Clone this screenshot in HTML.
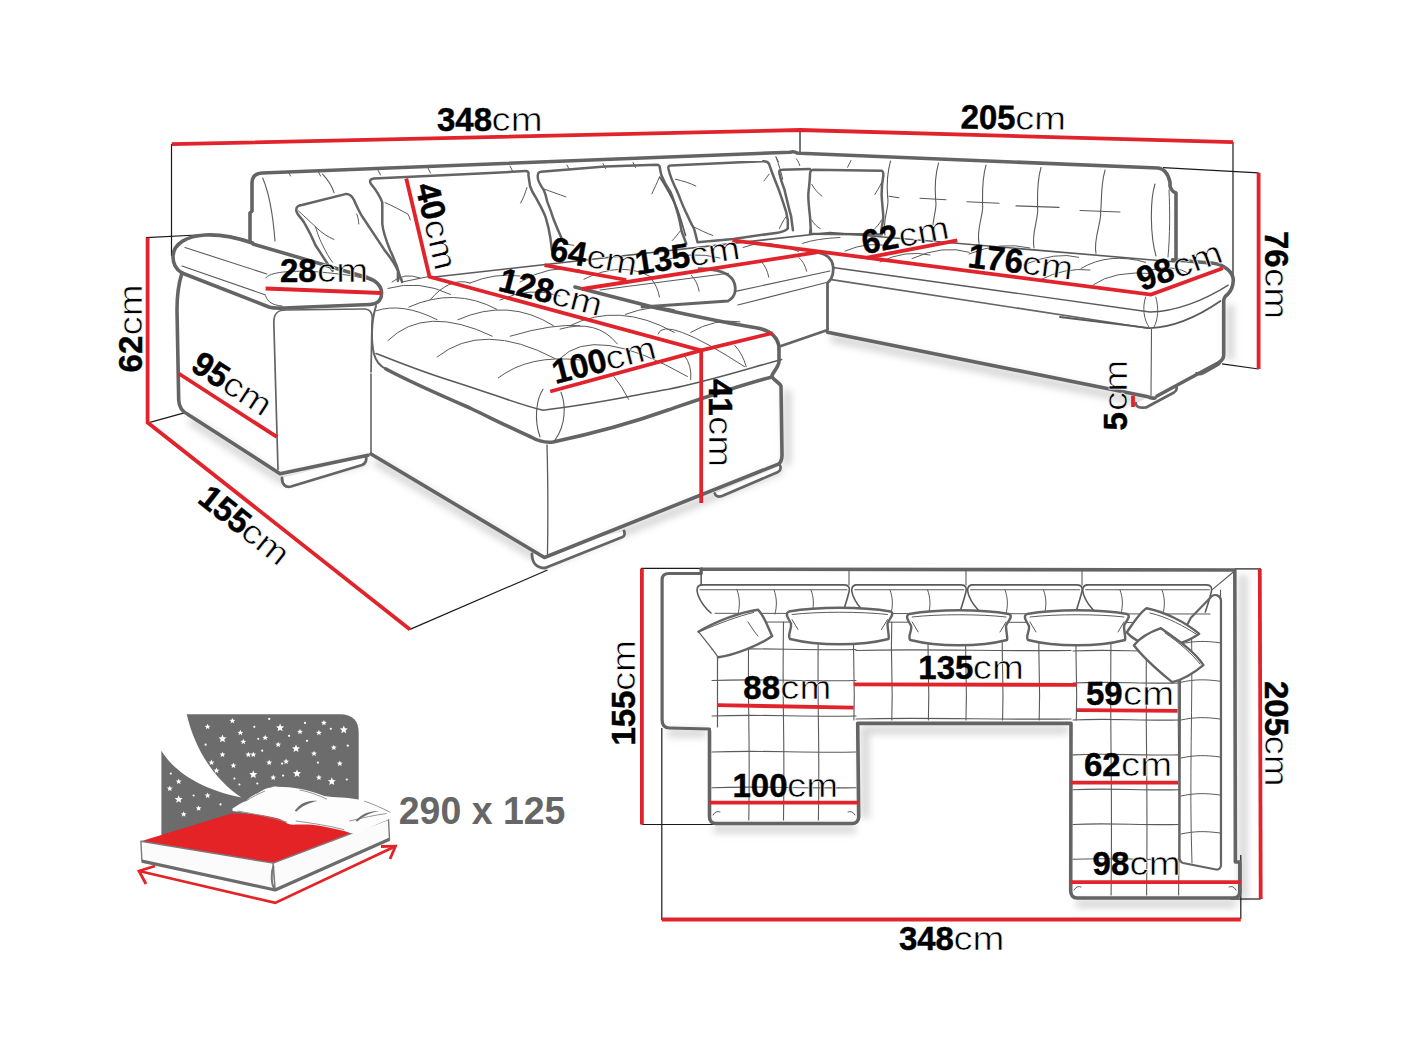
<!DOCTYPE html>
<html><head><meta charset="utf-8"><style>
html,body{margin:0;padding:0;background:#fff;width:1408px;height:1056px;overflow:hidden}
svg{display:block}
text{font-family:"Liberation Sans",sans-serif;fill:#000}
</style></head><body>
<svg width="1408" height="1056" viewBox="0 0 1408 1056">
<rect width="1408" height="1056" fill="#fff"/>
<defs><filter id="sh" x="-10%" y="-10%" width="120%" height="120%"><feGaussianBlur stdDeviation="3.5"/></filter></defs>
<g filter="url(#sh)" fill="none" stroke="#cfcfcf" stroke-width="9" opacity="0.8">
<path d="M714,829 L856,829"/>
<path d="M1076,903.5 L1236,903.5"/>
<path d="M1243,575 L1243,900"/>
<path d="M862,730 L1068,730"/>
<path d="M865,726 L865,818"/>
<path d="M668,733 L706,733"/>
<path d="M375,461 L546,563 L782,469"/>
<path d="M831,338 L1150,403"/>
<path d="M1230,305 L1230,360"/>
<path d="M787,390 L787,465"/>
<path d="M190,420 L282,480 L366,461"/>
</g>
<path d="M171.5,144 L171.5,256" fill="none" stroke="#1a1a1a" stroke-width="1.2"/>
<path d="M146,237.7 L207,234.5" fill="none" stroke="#1a1a1a" stroke-width="1.2"/>
<path d="M800,130 L800,153" fill="none" stroke="#1a1a1a" stroke-width="1.2"/>
<path d="M1233,142 L1233,277" fill="none" stroke="#1a1a1a" stroke-width="1.2"/>
<path d="M1163,167.7 L1258.6,172.8" fill="none" stroke="#1a1a1a" stroke-width="1.2"/>
<path d="M1222,363.8 L1258.6,369" fill="none" stroke="#1a1a1a" stroke-width="1.2"/>
<path d="M149,422.6 L186,412.3" fill="none" stroke="#1a1a1a" stroke-width="1.2"/>
<path d="M410,629.4 L547.5,570" fill="none" stroke="#1a1a1a" stroke-width="1.2"/>
<path d="M282,478 C282,484 285,488 291,486.5 L362,465 C366,463.5 367,461 366,456" fill="#fff" stroke="#646464" stroke-width="2.8" stroke-linecap="round" stroke-linejoin="round" />
<path d="M532,554 C532,562 536,568 545,568 L622.5,537 C625,536 625,533 624,531" fill="#fff" stroke="#646464" stroke-width="2.8" stroke-linecap="round" stroke-linejoin="round" />
<path d="M714.7,493.4 C716,497 719,497 722,496 L778,472 C781,470 781,468 780.3,466" fill="#fff" stroke="#646464" stroke-width="2.6" stroke-linecap="round" stroke-linejoin="round" />
<path d="M1135.8,403 C1136,407 1139,408 1146,407.5 L1174,392.5 C1177,390.5 1177,388 1176.3,386" fill="#fff" stroke="#646464" stroke-width="2.6" stroke-linecap="round" stroke-linejoin="round" />
<path d="M1196.4,373 C1198,375 1200,375 1204,373 L1218,365 C1220,364 1220,362 1220,361" fill="#fff" stroke="#646464" stroke-width="2.4" stroke-linecap="round" stroke-linejoin="round" />
<path d="M250,242 L250,213 L252,211 L252,183 Q252,173.5 262,173 L790,152.2 Q794,151 797,153 L800,153.3 L1158,168 Q1167,169 1170,182 L1170,186 Q1171,191 1176,193 L1176,258" fill="none" stroke="#646464" stroke-width="3.6" stroke-linecap="round" stroke-linejoin="round" />
<path d="M288,171 L290.5,176" fill="none" stroke="#5a5a5a" stroke-width="1" stroke-linecap="round" stroke-linejoin="round"/>
<path d="M318,171 L320.5,176" fill="none" stroke="#5a5a5a" stroke-width="1" stroke-linecap="round" stroke-linejoin="round"/>
<path d="M378,170 L380.5,175" fill="none" stroke="#5a5a5a" stroke-width="1" stroke-linecap="round" stroke-linejoin="round"/>
<path d="M428,168 L430.5,173" fill="none" stroke="#5a5a5a" stroke-width="1" stroke-linecap="round" stroke-linejoin="round"/>
<path d="M510,166 L512.5,171" fill="none" stroke="#5a5a5a" stroke-width="1" stroke-linecap="round" stroke-linejoin="round"/>
<path d="M567,165 L569.5,170" fill="none" stroke="#5a5a5a" stroke-width="1" stroke-linecap="round" stroke-linejoin="round"/>
<path d="M603,163.5 L605.5,168.5" fill="none" stroke="#5a5a5a" stroke-width="1" stroke-linecap="round" stroke-linejoin="round"/>
<path d="M633,162.5 L635.5,167.5" fill="none" stroke="#5a5a5a" stroke-width="1" stroke-linecap="round" stroke-linejoin="round"/>
<path d="M776,157 L778.5,162" fill="none" stroke="#5a5a5a" stroke-width="1" stroke-linecap="round" stroke-linejoin="round"/>
<path d="M262.7,178 C270,195 273,215 275,241" fill="none" stroke="#5a5a5a" stroke-width="1.1" stroke-linecap="round" stroke-linejoin="round"/>
<path d="M322.6,174.2 C328,180 332,186 334,192.7" fill="none" stroke="#5a5a5a" stroke-width="1.1" stroke-linecap="round" stroke-linejoin="round"/>
<path d="M1155,184 C1150,200 1150,235 1156,256" fill="none" stroke="#5a5a5a" stroke-width="1.1" stroke-linecap="round" stroke-linejoin="round"/>
<path d="M1169,190 C1170,210 1170,235 1168,257" fill="none" stroke="#5a5a5a" stroke-width="1.0" stroke-linecap="round" stroke-linejoin="round"/>
<path d="M890.5,161.101 C885.5,179.101 887.5,193.16 887.75,198.16 C889.75,206.16 882,220.219 885,235.219" fill="none" stroke="#5a5a5a" stroke-width="1.1" stroke-linecap="round" stroke-linejoin="round"/>
<path d="M938.5,163.11700000000002 C933.5,181.11700000000002 935.5,196.2272 935.75,201.2272 C937.75,209.2272 930,224.3374 933,239.3374" fill="none" stroke="#5a5a5a" stroke-width="1.1" stroke-linecap="round" stroke-linejoin="round"/>
<path d="M986,165.11200000000002 C981,183.11200000000002 983,199.1981 982.5,204.1981 C984.5,212.1981 976,228.2842 979,243.2842" fill="none" stroke="#5a5a5a" stroke-width="1.1" stroke-linecap="round" stroke-linejoin="round"/>
<path d="M1041,167.42200000000003 C1036,185.42200000000003 1038,202.7126 1037.5,207.7126 C1039.5,215.7126 1031,233.0032 1034,248.0032" fill="none" stroke="#5a5a5a" stroke-width="1.1" stroke-linecap="round" stroke-linejoin="round"/>
<path d="M1105,170.11 C1100,188.11 1102,206.71640000000002 1100.5,211.71640000000002 C1102.5,219.71640000000002 1093,238.3228 1096,253.3228" fill="none" stroke="#5a5a5a" stroke-width="1.1" stroke-linecap="round" stroke-linejoin="round"/>
<path d="M889,196.3 L899,197.8" fill="none" stroke="#5a5a5a" stroke-width="1.1" stroke-linecap="round" stroke-linejoin="round"/>
<path d="M920,198.2 L946,199.7" fill="none" stroke="#5a5a5a" stroke-width="1.1" stroke-linecap="round" stroke-linejoin="round"/>
<path d="M967,201.7 L999,203.2" fill="none" stroke="#5a5a5a" stroke-width="1.1" stroke-linecap="round" stroke-linejoin="round"/>
<path d="M1016,205.9 L1059,207.4" fill="none" stroke="#5a5a5a" stroke-width="1.1" stroke-linecap="round" stroke-linejoin="round"/>
<path d="M1080,210.5 L1120,212.0" fill="none" stroke="#5a5a5a" stroke-width="1.1" stroke-linecap="round" stroke-linejoin="round"/>
<path d="M851,160.5 L847.5,167.3" fill="none" stroke="#5a5a5a" stroke-width="1" stroke-linecap="round" stroke-linejoin="round"/>
<path d="M332.6,270.8 C326,262 320,252 315.5,245.2 C310,232 306,226 304.1,222.5 C300,216 296,214 296.3,210 C296,206 299,205.5 302,205 L345.3,194.1 C350,193.5 352,196 354,200 C357,207 360,213 362.4,216.8 L373.8,233.9 L385.1,250.9 C390,257 395,264 397.9,270.8 L397.9,281" fill="none" stroke="#646464" stroke-width="2.5" stroke-linecap="round" stroke-linejoin="round" />
<path d="M298.5,211 C303,215 308,219.7 317,228.2 C322,233 328,237 334,239.5" fill="none" stroke="#5a5a5a" stroke-width="1" stroke-linecap="round" stroke-linejoin="round"/>
<path d="M315.5,226.8 C318,235 320,240 322.6,245.2 C326,252 329,258 332.6,262.3" fill="none" stroke="#5a5a5a" stroke-width="1" stroke-linecap="round" stroke-linejoin="round"/>
<path d="M356.7,214 C358,217 358.5,220 358.8,224" fill="none" stroke="#5a5a5a" stroke-width="1" stroke-linecap="round" stroke-linejoin="round"/>
<path d="M402,282 C401,276 400.7,280.7 400.7,279 C398,268 394,258 390,250 C386,240 383,232 382.3,224 L382.3,202.6 C380,196 376,190 371,184 C369,181 370,179 374,178.5 L480,173.4 L525.3,171.1 C528,171 529,172.5 528.4,175 L530,186 C532,192 534,195 536.3,198.4 C540,205 543,210 545.6,217.2 C548,225 549.5,232 550.3,237.5 L551.9,250" fill="none" stroke="#646464" stroke-width="2.5" stroke-linecap="round" stroke-linejoin="round" />
<path d="M385,202.6 C393,206 400,210 407.8,214 C409,216 410,218 410.3,220" fill="none" stroke="#5a5a5a" stroke-width="1" stroke-linecap="round" stroke-linejoin="round"/>
<path d="M526.9,187.5 C525,194 523,199 520.6,203" fill="none" stroke="#5a5a5a" stroke-width="1" stroke-linecap="round" stroke-linejoin="round"/>
<path d="M402,282 L429,276.5" fill="none" stroke="#5a5a5a" stroke-width="1.2" stroke-linecap="round" stroke-linejoin="round"/>
<path d="M564.4,243.8 C562,240 561.3,237.5 561.3,237.5 C557,228 555,223 553.4,218.8 C551,211 549,206 547.2,201.6 C546,196 545,193 544,190.6 C541,186 538,181 537.8,178 C537.5,174 538,172 541,171.8 L605,166.4 L656.6,164.8 C659,165 660,166 659.7,167.2 L661.3,175 C664,182 667,187 670.6,192.2 C674,200 676,207 678.4,215.6 C680,222 681,227 681.6,231.3 L686.3,243.8" fill="none" stroke="#646464" stroke-width="2.5" stroke-linecap="round" stroke-linejoin="round" />
<path d="M544,189 C552,192 558,194 565.9,196.9" fill="none" stroke="#5a5a5a" stroke-width="1" stroke-linecap="round" stroke-linejoin="round"/>
<path d="M659.7,176.6 C657,183 654,189 651.9,193.8" fill="none" stroke="#5a5a5a" stroke-width="1" stroke-linecap="round" stroke-linejoin="round"/>
<path d="M680,231.3 C677,235 675,238 672.2,240.6" fill="none" stroke="#5a5a5a" stroke-width="1" stroke-linecap="round" stroke-linejoin="round"/>
<path d="M564.4,243.8 C567,244 570,245 573.8,245.3" fill="none" stroke="#5a5a5a" stroke-width="1" stroke-linecap="round" stroke-linejoin="round"/>
<path d="M697.5,242.3 C696,236 695,232 694,228.6 C690,222 688,216 685.6,211.6 C682,204 680,198 677,191.1 C673,183 670,176 668.5,169 C668,166 669,165.6 671,165.6 L762.3,161.3 C766,161 768,162 769,163.9 L770.8,169 C774,178 777,185 779.3,191.1 C782,199 784,205 786.1,211.6 C787,216 787.5,219 787.8,220.1 L787.8,228.6 C784,232 780,232.5 776,232.9 L733.3,238.9 L697.5,242.3" fill="none" stroke="#646464" stroke-width="2.5" stroke-linecap="round" stroke-linejoin="round" />
<path d="M675.3,179.2 C683,181 690,183 695.8,186" fill="none" stroke="#5a5a5a" stroke-width="1" stroke-linecap="round" stroke-linejoin="round"/>
<path d="M769,174.1 C767,177 765.5,179 764,180.9" fill="none" stroke="#5a5a5a" stroke-width="1" stroke-linecap="round" stroke-linejoin="round"/>
<path d="M694,227 C700,230 706,233 712.8,235.5" fill="none" stroke="#5a5a5a" stroke-width="1" stroke-linecap="round" stroke-linejoin="round"/>
<path d="M786,216.7 C783,221 781,225 779.3,228.6" fill="none" stroke="#5a5a5a" stroke-width="1" stroke-linecap="round" stroke-linejoin="round"/>
<path d="M660,177.5 C668,190 673,200 677,208.2 C681,218 683,228 685.6,235.5" fill="none" stroke="#5a5a5a" stroke-width="1.6" stroke-linecap="round" stroke-linejoin="round"/>
<path d="M793,230.3 C792,224 791.5,220 791.2,216.7 C788,205 786,196 784.4,189.4 C782,183 780,178 779.3,172.4 C779,170.5 780,169.8 782,169.8 L810,169" fill="none" stroke="#646464" stroke-width="2.5" stroke-linecap="round" stroke-linejoin="round" />
<path d="M776,157 C779,165 781,172 782.7,179.2" fill="none" stroke="#5a5a5a" stroke-width="1" stroke-linecap="round" stroke-linejoin="round"/>
<path d="M796.4,158.8 C798,161 799,163 799.8,165.6" fill="none" stroke="#5a5a5a" stroke-width="1" stroke-linecap="round" stroke-linejoin="round"/>
<path d="M813.4,169.8 L881.6,170.7 C883,171 883.5,172.5 883.3,175.8 C882,183 881.6,188 881.6,194.5 C882,203 883,210 883.3,216.7 C883,222 882,226 881.6,228.6 L881.6,234.6 L810,233.8 C810.5,229 810.9,226 810.9,232 L810,216.7 C809,208 808.3,200 808.3,194.5 C809,186 810,180 810,174.1 C810,171 811,170 813.4,169.8 Z" fill="none" stroke="#646464" stroke-width="2.5" stroke-linecap="round" stroke-linejoin="round" />
<path d="M811.7,184.3 C815,190 818,193 822,196.2" fill="none" stroke="#5a5a5a" stroke-width="1" stroke-linecap="round" stroke-linejoin="round"/>
<path d="M881.6,182.6 C879,188 877,191 874.8,194.5" fill="none" stroke="#5a5a5a" stroke-width="1" stroke-linecap="round" stroke-linejoin="round"/>
<path d="M811.7,220 C814,224 817,227 820.2,228.6" fill="none" stroke="#5a5a5a" stroke-width="1" stroke-linecap="round" stroke-linejoin="round"/>
<path d="M881.6,220 C879,224 877,227 874.8,228.6" fill="none" stroke="#5a5a5a" stroke-width="1" stroke-linecap="round" stroke-linejoin="round"/>
<path d="M252.5,243 C238,238 222,234 205,235 C188,236 173,243 173,257 C173,265 177,270 182,273 L269,307 C275,309 285,308 295,307.5 L370,304.5 C379,304 382,299 381.5,292 C381,284 374,279 362,276 L253,244" fill="none" stroke="#646464" stroke-width="3.6" stroke-linecap="round" stroke-linejoin="round" />
<path d="M185,247.5 L266.8,274" fill="none" stroke="#5a5a5a" stroke-width="1.1" stroke-linecap="round" stroke-linejoin="round"/>
<path d="M182,266 L265.6,295" fill="none" stroke="#5a5a5a" stroke-width="1.1" stroke-linecap="round" stroke-linejoin="round"/>
<path d="M265.6,278 C270,272 290,270 320,272 C340,274 360,276 372,281" fill="none" stroke="#5a5a5a" stroke-width="1" stroke-linecap="round" stroke-linejoin="round"/>
<path d="M265.6,296 C268,302 272,305 282,306" fill="none" stroke="#5a5a5a" stroke-width="1" stroke-linecap="round" stroke-linejoin="round"/>
<path d="M182,273 C178,285 177,295 177,310 L178.7,400 C179,408 183,412 188,414.4 L280,473.7 L368,455.3" fill="none" stroke="#646464" stroke-width="3.6" stroke-linecap="round" stroke-linejoin="round" />
<path d="M278,469.6 L273.8,322 C273.8,313 278,310 286,310 L364,309 C371,309 373,314 372,322 L371,372" fill="none" stroke="#646464" stroke-width="1.7" stroke-linecap="round" stroke-linejoin="round" />
<path d="M376,306 C371,322 371,342 374,354 C376,362 380,366 386,369" fill="none" stroke="#646464" stroke-width="2.0" stroke-linecap="round" stroke-linejoin="round" />
<path d="M386,369 C410,382 440,395 470,408 C495,420 515,430 531,437 C538,441 544,443 553,442 C600,432 640,420 668,410 C700,399 740,385 772,377" fill="none" stroke="#646464" stroke-width="3.6" stroke-linecap="round" stroke-linejoin="round" />
<path d="M376,353.5 C405,365 430,375 459.5,383.4 C490,393 520,405 543,410.2 C590,405 630,396 668.3,389.3 C710,381 750,368 781.7,359.5" fill="none" stroke="#5a5a5a" stroke-width="1.6" stroke-linecap="round" stroke-linejoin="round"/>
<path d="M575,287 L653.6,307.3 C690,315 720,322 756,327.7 C770,330 777,336 779,346 L779,362 C778,368 773,372 771.8,376 C773,380 779,382 781,386 L782,455 C782,460 781,462 779,463.8" fill="none" stroke="#646464" stroke-width="3.6" stroke-linecap="round" stroke-linejoin="round" />
<path d="M371,374 L371,454" fill="none" stroke="#5a5a5a" stroke-width="1.5" stroke-linecap="round" stroke-linejoin="round"/>
<path d="M371,454 L544.4,557.5 L779,463.8" fill="none" stroke="#646464" stroke-width="3.6" stroke-linecap="round" stroke-linejoin="round" />
<path d="M547,445 C548,480 548,520 547.5,554" fill="none" stroke="#5a5a5a" stroke-width="1.3" stroke-linecap="round" stroke-linejoin="round"/>
<path d="M543,389.3 C536,400 534,420 540,437" fill="none" stroke="#5a5a5a" stroke-width="1.1" stroke-linecap="round" stroke-linejoin="round"/>
<path d="M561,392.3 C566,405 566,425 555,440" fill="none" stroke="#5a5a5a" stroke-width="1.1" stroke-linecap="round" stroke-linejoin="round"/>
<path d="M387.9,288.4 Q419.2,279.4 450.5,294.4" fill="none" stroke="#5a5a5a" stroke-width="1" stroke-linecap="round" stroke-linejoin="round"/>
<path d="M408.8,307.1 Q454.2,286.6 496.8,309.3" fill="none" stroke="#5a5a5a" stroke-width="1" stroke-linecap="round" stroke-linejoin="round"/>
<path d="M376,310.8 Q402.1,302.0 437.1,319.7" fill="none" stroke="#5a5a5a" stroke-width="1" stroke-linecap="round" stroke-linejoin="round"/>
<path d="M387.9,340.6 Q425.1,304.0 492.3,336.2" fill="none" stroke="#5a5a5a" stroke-width="1" stroke-linecap="round" stroke-linejoin="round"/>
<path d="M458,319.7 Q508.6,297.3 553.5,325.7" fill="none" stroke="#5a5a5a" stroke-width="1" stroke-linecap="round" stroke-linejoin="round"/>
<path d="M437.1,357 Q482.6,320.5 554.9,358.5" fill="none" stroke="#5a5a5a" stroke-width="1" stroke-linecap="round" stroke-linejoin="round"/>
<path d="M510.2,336.2 Q552.9,323.4 580,325.7" fill="none" stroke="#5a5a5a" stroke-width="1" stroke-linecap="round" stroke-linejoin="round"/>
<path d="M498.3,377.9 Q529.1,354.1 580,360" fill="none" stroke="#5a5a5a" stroke-width="1" stroke-linecap="round" stroke-linejoin="round"/>
<path d="M625.3,314.4 Q653.2,303.8 674.3,309.5" fill="none" stroke="#5a5a5a" stroke-width="1" stroke-linecap="round" stroke-linejoin="round"/>
<path d="M569.8,325.8 Q618.8,301.3 674.3,332.4" fill="none" stroke="#5a5a5a" stroke-width="1" stroke-linecap="round" stroke-linejoin="round"/>
<path d="M560,329.1 Q596.8,318.5 617.2,343.8" fill="none" stroke="#5a5a5a" stroke-width="1" stroke-linecap="round" stroke-linejoin="round"/>
<path d="M658,334 Q663.7,314.4 744.6,366.7" fill="none" stroke="#5a5a5a" stroke-width="1" stroke-linecap="round" stroke-linejoin="round"/>
<path d="M690.7,332.4 Q715.1,318.1 740,321.8" fill="none" stroke="#5a5a5a" stroke-width="1" stroke-linecap="round" stroke-linejoin="round"/>
<path d="M560,358.5 Q594.3,323.3 687.4,376.5" fill="none" stroke="#5a5a5a" stroke-width="1" stroke-linecap="round" stroke-linejoin="round"/>
<path d="M500,300 Q530.0,286.0 560,296" fill="none" stroke="#5a5a5a" stroke-width="1" stroke-linecap="round" stroke-linejoin="round"/>
<path d="M392,282 Q404.0,272.0 420,278" fill="none" stroke="#5a5a5a" stroke-width="1" stroke-linecap="round" stroke-linejoin="round"/>
<path d="M613.9,376.5 Q621.9,385.9 628.6,399.3" fill="none" stroke="#5a5a5a" stroke-width="1" stroke-linecap="round" stroke-linejoin="round"/>
<path d="M684.2,355.2 Q692.2,365.45 690.7,379.7" fill="none" stroke="#5a5a5a" stroke-width="1" stroke-linecap="round" stroke-linejoin="round"/>
<path d="M734.8,345.4 Q742.8,354.04999999999995 746.2,366.7" fill="none" stroke="#5a5a5a" stroke-width="1" stroke-linecap="round" stroke-linejoin="round"/>
<path d="M772,335 Q780,340.5 778,350" fill="none" stroke="#5a5a5a" stroke-width="1" stroke-linecap="round" stroke-linejoin="round"/>
<path d="M430,277.5 L830,232.5 L1176,262" fill="none" stroke="#5a5a5a" stroke-width="1.6" stroke-linecap="round" stroke-linejoin="round"/>
<path d="M430,300 Q450.0,276.5 470,283" fill="none" stroke="#5a5a5a" stroke-width="1" stroke-linecap="round" stroke-linejoin="round"/>
<path d="M470,283 Q495.0,272.5 520,276" fill="none" stroke="#5a5a5a" stroke-width="1" stroke-linecap="round" stroke-linejoin="round"/>
<path d="M520,282 Q550.0,264.0 580,270" fill="none" stroke="#5a5a5a" stroke-width="1" stroke-linecap="round" stroke-linejoin="round"/>
<path d="M583.9,279.2 Q621.7,260.4 651.5,277.2" fill="none" stroke="#5a5a5a" stroke-width="1" stroke-linecap="round" stroke-linejoin="round"/>
<path d="M743,247.4 Q766.7,237.4 798.7,251.4" fill="none" stroke="#5a5a5a" stroke-width="1" stroke-linecap="round" stroke-linejoin="round"/>
<path d="M802.6,243.4 Q815.9,238.6 840,237.5" fill="none" stroke="#5a5a5a" stroke-width="1" stroke-linecap="round" stroke-linejoin="round"/>
<path d="M660,262 Q690.0,250.0 720,258" fill="none" stroke="#5a5a5a" stroke-width="1" stroke-linecap="round" stroke-linejoin="round"/>
<path d="M651.5,279.2 Q657.5,286.15 659.5,297.1" fill="none" stroke="#5a5a5a" stroke-width="1" stroke-linecap="round" stroke-linejoin="round"/>
<path d="M691.3,275.3 Q697.3,281.25 699.2,291.2" fill="none" stroke="#5a5a5a" stroke-width="1" stroke-linecap="round" stroke-linejoin="round"/>
<path d="M760.9,261.3 Q766.9,267.25 768.8,277.2" fill="none" stroke="#5a5a5a" stroke-width="1" stroke-linecap="round" stroke-linejoin="round"/>
<path d="M798.7,257.4 Q804.7,262.35 806.6,271.3" fill="none" stroke="#5a5a5a" stroke-width="1" stroke-linecap="round" stroke-linejoin="round"/>
<path d="M699,268.6 C715,269 728,272 733,280 C737,288 736,297 728,301 L642,307" fill="none" stroke="#646464" stroke-width="2.8" stroke-linecap="round" stroke-linejoin="round" />
<path d="M600,290 L728.6,273.2" fill="none" stroke="#5a5a5a" stroke-width="1.1" stroke-linecap="round" stroke-linejoin="round"/>
<path d="M735.5,291.4 L830,271" fill="none" stroke="#5a5a5a" stroke-width="1.1" stroke-linecap="round" stroke-linejoin="round"/>
<path d="M737.8,305 L827.5,282.3" fill="none" stroke="#5a5a5a" stroke-width="1.1" stroke-linecap="round" stroke-linejoin="round"/>
<path d="M815,252 C825,253 832,258 833,266 C834,274 831,280 827.5,283 L827.5,330 L781,346" fill="none" stroke="#646464" stroke-width="2.8" stroke-linecap="round" stroke-linejoin="round" />
<path d="M833,267.5 L1149.8,312 C1175,312 1205,300 1228.2,285.1" fill="none" stroke="#5a5a5a" stroke-width="1.3" stroke-linecap="round" stroke-linejoin="round"/>
<path d="M831.5,279.6 L1148,328.2" fill="none" stroke="#646464" stroke-width="1.6" stroke-linecap="round" stroke-linejoin="round" />
<path d="M827.5,332.3 L1148,396.7 C1150,398 1152,398.5 1155,398" fill="none" stroke="#646464" stroke-width="3.6" stroke-linecap="round" stroke-linejoin="round" />
<path d="M844.9,251.1 Q868.1,241.2 888,246" fill="none" stroke="#5a5a5a" stroke-width="1" stroke-linecap="round" stroke-linejoin="round"/>
<path d="M912,258.6 Q943.2,244.3 969.2,252.3" fill="none" stroke="#5a5a5a" stroke-width="1" stroke-linecap="round" stroke-linejoin="round"/>
<path d="M969,254 Q1000.5,241.0 1030,248" fill="none" stroke="#5a5a5a" stroke-width="1" stroke-linecap="round" stroke-linejoin="round"/>
<path d="M1023.9,264.8 Q1056.2,251.2 1078.6,257.3" fill="none" stroke="#5a5a5a" stroke-width="1" stroke-linecap="round" stroke-linejoin="round"/>
<path d="M1081,268.5 Q1108.5,251.8 1145.7,262.3" fill="none" stroke="#5a5a5a" stroke-width="1" stroke-linecap="round" stroke-linejoin="round"/>
<path d="M1093.5,284.7 Q1113.5,270.3 1153.2,273.5" fill="none" stroke="#5a5a5a" stroke-width="1" stroke-linecap="round" stroke-linejoin="round"/>
<path d="M1040,280 Q1065.0,267.0 1090,270" fill="none" stroke="#5a5a5a" stroke-width="1" stroke-linecap="round" stroke-linejoin="round"/>
<path d="M880,262 Q905.0,249.5 930,255" fill="none" stroke="#5a5a5a" stroke-width="1" stroke-linecap="round" stroke-linejoin="round"/>
<path d="M1150,270 Q1174.0,264.0 1190,274" fill="none" stroke="#5a5a5a" stroke-width="1" stroke-linecap="round" stroke-linejoin="round"/>
<path d="M1172.5,259.8 L1213.5,263.2 C1225,265 1233,272 1233.3,280 C1233,287 1231,291 1228,294 C1224,297 1223.5,299 1223.7,303 L1223.7,354.5 C1223.7,358 1222,361 1218,363 L1157,396" fill="none" stroke="#646464" stroke-width="3.6" stroke-linecap="round" stroke-linejoin="round" />
<path d="M1060,317 L1149.8,328.1 C1175,327 1200,315 1220.5,300.9" fill="none" stroke="#5a5a5a" stroke-width="1.8" stroke-linecap="round" stroke-linejoin="round"/>
<path d="M1145.6,297 C1142,308 1144,320 1149,327" fill="none" stroke="#5a5a5a" stroke-width="1" stroke-linecap="round" stroke-linejoin="round"/>
<path d="M1155.8,297 C1159,308 1158,320 1154,327" fill="none" stroke="#5a5a5a" stroke-width="1" stroke-linecap="round" stroke-linejoin="round"/>
<path d="M1151.5,329.4 L1151,396" fill="none" stroke="#5a5a5a" stroke-width="1.1" stroke-linecap="round" stroke-linejoin="round"/>
<path d="M171.7,144.2 L800,130 L1233,142.1" fill="none" stroke="#e1242b" stroke-width="3.8" stroke-linecap="butt" stroke-linejoin="miter"/>
<path d="M1258.6,172.8 L1258.6,369" fill="none" stroke="#e1242b" stroke-width="3.8" stroke-linecap="butt" stroke-linejoin="miter"/>
<path d="M147.6,237.7 L147.6,422.6 L410,629.4" fill="none" stroke="#e1242b" stroke-width="3.8" stroke-linecap="butt" stroke-linejoin="miter"/>
<path d="M178.7,373.5 L276.9,436.9" fill="none" stroke="#e1242b" stroke-width="3.8" stroke-linecap="butt" stroke-linejoin="miter"/>
<path d="M265.6,288.5 L381.5,293" fill="none" stroke="#e1242b" stroke-width="3.8" stroke-linecap="butt" stroke-linejoin="miter"/>
<path d="M406.25,178.5 L429.5,276.8 L701.2,350.4 L701.2,503" fill="none" stroke="#e1242b" stroke-width="3.8" stroke-linecap="butt" stroke-linejoin="miter"/>
<path d="M550.2,391.5 L701.2,350.4 L772.8,333" fill="none" stroke="#e1242b" stroke-width="3.8" stroke-linecap="butt" stroke-linejoin="miter"/>
<path d="M544.5,265.2 L626.3,280" fill="none" stroke="#e1242b" stroke-width="3.8" stroke-linecap="butt" stroke-linejoin="miter"/>
<path d="M582,289 L816.8,252.3" fill="none" stroke="#e1242b" stroke-width="3.8" stroke-linecap="butt" stroke-linejoin="miter"/>
<path d="M732.4,240.3 L1151,294.6 L1222.8,268.2" fill="none" stroke="#e1242b" stroke-width="3.8" stroke-linecap="butt" stroke-linejoin="miter"/>
<path d="M867.3,257.7 L957.3,240.3" fill="none" stroke="#e1242b" stroke-width="3.8" stroke-linecap="butt" stroke-linejoin="miter"/>
<path d="M1133,395.6 L1133,407" fill="none" stroke="#e1242b" stroke-width="3.8" stroke-linecap="butt" stroke-linejoin="miter"/>
<g transform="translate(438 131.3) rotate(0)"><text transform="translate(-1 0) scale(0.97 1)" x="0" y="0" font-size="34" font-weight="700" stroke="#000" stroke-width="0.45">348</text><text transform="translate(53.5 0) scale(1.16 1)" x="0" y="0" font-size="33" font-weight="400" stroke="#fff" stroke-width="0.6">cm</text></g>
<g transform="translate(961.4 128.5) rotate(0.8)"><text transform="translate(-1 0) scale(0.97 1)" x="0" y="0" font-size="34" font-weight="700" stroke="#000" stroke-width="0.45">205</text><text transform="translate(53.5 0) scale(1.16 1)" x="0" y="0" font-size="33" font-weight="400" stroke="#fff" stroke-width="0.6">cm</text></g>
<g transform="translate(1265 232) rotate(90)"><text transform="translate(-1 0) scale(0.97 1)" x="0" y="0" font-size="34" font-weight="700" stroke="#000" stroke-width="0.45">76</text><text transform="translate(36.0 0) scale(1.16 1)" x="0" y="0" font-size="33" font-weight="400" stroke="#fff" stroke-width="0.6">cm</text></g>
<g transform="translate(141.5 371.4) rotate(-90)"><text transform="translate(-1 0) scale(0.97 1)" x="0" y="0" font-size="34" font-weight="700" stroke="#000" stroke-width="0.45">62</text><text transform="translate(36.0 0) scale(1.16 1)" x="0" y="0" font-size="33" font-weight="400" stroke="#fff" stroke-width="0.6">cm</text></g>
<g transform="translate(281 282) rotate(0)"><text transform="translate(-1 0) scale(0.97 1)" x="0" y="0" font-size="34" font-weight="700" stroke="#000" stroke-width="0.45">28</text><text transform="translate(36.0 0) scale(1.16 1)" x="0" y="0" font-size="33" font-weight="400" stroke="#fff" stroke-width="0.6">cm</text></g>
<g transform="translate(415.5 187) rotate(76.7)"><text transform="translate(-1 0) scale(0.97 1)" x="0" y="0" font-size="34" font-weight="700" stroke="#000" stroke-width="0.45">40</text><text transform="translate(36.0 0) scale(1.16 1)" x="0" y="0" font-size="33" font-weight="400" stroke="#fff" stroke-width="0.6">cm</text></g>
<g transform="translate(549.5 260) rotate(10.4)"><text transform="translate(-1 0) scale(0.97 1)" x="0" y="0" font-size="34" font-weight="700" stroke="#000" stroke-width="0.45">64</text><text transform="translate(36.0 0) scale(1.16 1)" x="0" y="0" font-size="33" font-weight="400" stroke="#fff" stroke-width="0.6">cm</text></g>
<g transform="translate(638 274.5) rotate(-8.7)"><text transform="translate(-1 0) scale(0.97 1)" x="0" y="0" font-size="34" font-weight="700" stroke="#000" stroke-width="0.45">135</text><text transform="translate(53.5 0) scale(1.16 1)" x="0" y="0" font-size="33" font-weight="400" stroke="#fff" stroke-width="0.6">cm</text></g>
<g transform="translate(498 290.4) rotate(14.4)"><text transform="translate(-1 0) scale(0.97 1)" x="0" y="0" font-size="34" font-weight="700" stroke="#000" stroke-width="0.45">128</text><text transform="translate(53.5 0) scale(1.16 1)" x="0" y="0" font-size="33" font-weight="400" stroke="#fff" stroke-width="0.6">cm</text></g>
<g transform="translate(556.5 383.7) rotate(-14.3)"><text transform="translate(-1 0) scale(0.97 1)" x="0" y="0" font-size="34" font-weight="700" stroke="#000" stroke-width="0.45">100</text><text transform="translate(53.5 0) scale(1.16 1)" x="0" y="0" font-size="33" font-weight="400" stroke="#fff" stroke-width="0.6">cm</text></g>
<g transform="translate(709.2 380) rotate(90)"><text transform="translate(-1 0) scale(0.97 1)" x="0" y="0" font-size="34" font-weight="700" stroke="#000" stroke-width="0.45">41</text><text transform="translate(36.0 0) scale(1.16 1)" x="0" y="0" font-size="33" font-weight="400" stroke="#fff" stroke-width="0.6">cm</text></g>
<g transform="translate(865 254) rotate(-10.5)"><text transform="translate(-1 0) scale(0.97 1)" x="0" y="0" font-size="34" font-weight="700" stroke="#000" stroke-width="0.45">62</text><text transform="translate(36.0 0) scale(1.16 1)" x="0" y="0" font-size="33" font-weight="400" stroke="#fff" stroke-width="0.6">cm</text></g>
<g transform="translate(968 267) rotate(7)"><text transform="translate(-1 0) scale(0.97 1)" x="0" y="0" font-size="34" font-weight="700" stroke="#000" stroke-width="0.45">176</text><text transform="translate(53.5 0) scale(1.16 1)" x="0" y="0" font-size="33" font-weight="400" stroke="#fff" stroke-width="0.6">cm</text></g>
<g transform="translate(1143 291) rotate(-20)"><text transform="translate(-1 0) scale(0.97 1)" x="0" y="0" font-size="34" font-weight="700" stroke="#000" stroke-width="0.45">98</text><text transform="translate(36.0 0) scale(1.16 1)" x="0" y="0" font-size="33" font-weight="400" stroke="#fff" stroke-width="0.6">cm</text></g>
<g transform="translate(1127 429.4) rotate(-90)"><text transform="translate(-1 0) scale(0.97 1)" x="0" y="0" font-size="34" font-weight="700" stroke="#000" stroke-width="0.45">5</text><text transform="translate(18.5 0) scale(1.16 1)" x="0" y="0" font-size="33" font-weight="400" stroke="#fff" stroke-width="0.6">cm</text></g>
<g transform="translate(190 370) rotate(33)"><text transform="translate(-1 0) scale(0.97 1)" x="0" y="0" font-size="34" font-weight="700" stroke="#000" stroke-width="0.45">95</text><text transform="translate(36.0 0) scale(1.16 1)" x="0" y="0" font-size="33" font-weight="400" stroke="#fff" stroke-width="0.6">cm</text></g>
<g transform="translate(197 502) rotate(38.5)"><text transform="translate(-1 0) scale(0.97 1)" x="0" y="0" font-size="34" font-weight="700" stroke="#000" stroke-width="0.45">155</text><text transform="translate(53.5 0) scale(1.16 1)" x="0" y="0" font-size="33" font-weight="400" stroke="#fff" stroke-width="0.6">cm</text></g>
<path d="M641,568.4 L703,568.4" fill="none" stroke="#1a1a1a" stroke-width="1.2"/>
<path d="M1234.8,568.9 L1261,568.9" fill="none" stroke="#1a1a1a" stroke-width="1.2"/>
<path d="M641.9,824.5 L727.4,824.5" fill="none" stroke="#1a1a1a" stroke-width="1.2"/>
<path d="M661.8,728 L661.8,920" fill="none" stroke="#1a1a1a" stroke-width="1.2"/>
<path d="M1240.8,855 L1240.8,919" fill="none" stroke="#1a1a1a" stroke-width="1.2"/>
<path d="M1230.8,899 L1260.7,899" fill="none" stroke="#1a1a1a" stroke-width="1.2"/>
<path d="M701.2,569.2 L1234.8,570 L1235.4,862 L1239.8,862 L1239.8,892 C1239.8,896 1237,898 1233,898 L1077,898 C1073,898 1070.7,895 1070.7,891 L1071,723.4 L857.7,723.4 L858.7,817 C858.7,821 856,823.5 852,823.5 L716,823.5 C712,823.5 709.5,821 709.5,817 L709.5,731" fill="none" stroke="#646464" stroke-width="3.6" stroke-linecap="round" stroke-linejoin="round" />
<path d="M709.5,729 L669.7,728 C664,728 662.1,725 662.1,720 L662.1,580 C662.1,575.5 664,573.5 669,573.5 L701.2,573.5 L701.2,569.2" fill="none" stroke="#646464" stroke-width="3.2" stroke-linecap="round" stroke-linejoin="round" />
<path d="M717.5,649 L717.5,727" fill="none" stroke="#5a5a5a" stroke-width="1.2" stroke-linecap="round" stroke-linejoin="round"/>
<path d="M701.2,569.2 L701.2,584" fill="none" stroke="#5a5a5a" stroke-width="1.2" stroke-linecap="round" stroke-linejoin="round"/>
<path d="M1233.3,572 L1212,589.8" fill="none" stroke="#5a5a5a" stroke-width="1.1" stroke-linecap="round" stroke-linejoin="round"/>
<path d="M1220.5,590 L1220.5,862" fill="none" stroke="#5a5a5a" stroke-width="1.1" stroke-linecap="round" stroke-linejoin="round"/>
<path d="M701,584.9 L844,584.9 C849,584.9 850,588 849,592 C847,600 845,606 843,612" fill="none" stroke="#5a5a5a" stroke-width="1.6" stroke-linecap="round" stroke-linejoin="round"/>
<path d="M701,584.9 C697,585.5 696,590 698,595 C701,603 705,608 711,613" fill="none" stroke="#5a5a5a" stroke-width="1.6" stroke-linecap="round" stroke-linejoin="round"/>
<path d="M700,589.8 L847,589.8" fill="none" stroke="#5a5a5a" stroke-width="1.1" stroke-linecap="round" stroke-linejoin="round"/>
<path d="M855.7,584.9 L960.9,584.9 C965.9,584.9 966.9,588 965.9,592 C963.9,600 961.9,606 959.9,612" fill="none" stroke="#5a5a5a" stroke-width="1.6" stroke-linecap="round" stroke-linejoin="round"/>
<path d="M855.7,584.9 C851.7,585.5 850.7,590 852.7,595 C855.7,603 859.7,608 865.7,613" fill="none" stroke="#5a5a5a" stroke-width="1.6" stroke-linecap="round" stroke-linejoin="round"/>
<path d="M854.7,589.8 L963.9,589.8" fill="none" stroke="#5a5a5a" stroke-width="1.1" stroke-linecap="round" stroke-linejoin="round"/>
<path d="M971.6,584.9 L1076.8,584.9 C1081.8,584.9 1082.8,588 1081.8,592 C1079.8,600 1077.8,606 1075.8,612" fill="none" stroke="#5a5a5a" stroke-width="1.6" stroke-linecap="round" stroke-linejoin="round"/>
<path d="M971.6,584.9 C967.6,585.5 966.6,590 968.6,595 C971.6,603 975.6,608 981.6,613" fill="none" stroke="#5a5a5a" stroke-width="1.6" stroke-linecap="round" stroke-linejoin="round"/>
<path d="M970.6,589.8 L1079.8,589.8" fill="none" stroke="#5a5a5a" stroke-width="1.1" stroke-linecap="round" stroke-linejoin="round"/>
<path d="M1086.7,584.9 L1206.3,584.9 C1211.3,584.9 1212.3,588 1211.3,592 C1209.3,600 1207.3,606 1205.3,612" fill="none" stroke="#5a5a5a" stroke-width="1.6" stroke-linecap="round" stroke-linejoin="round"/>
<path d="M1086.7,584.9 C1082.7,585.5 1081.7,590 1083.7,595 C1086.7,603 1090.7,608 1096.7,613" fill="none" stroke="#5a5a5a" stroke-width="1.6" stroke-linecap="round" stroke-linejoin="round"/>
<path d="M1085.7,589.8 L1209.3,589.8" fill="none" stroke="#5a5a5a" stroke-width="1.1" stroke-linecap="round" stroke-linejoin="round"/>
<path d="M701.2,570 L701.2,585" fill="none" stroke="#5a5a5a" stroke-width="1.1" stroke-linecap="round" stroke-linejoin="round"/>
<path d="M849,570 L849,585" fill="none" stroke="#5a5a5a" stroke-width="1.1" stroke-linecap="round" stroke-linejoin="round"/>
<path d="M966,570 L966,585" fill="none" stroke="#5a5a5a" stroke-width="1.1" stroke-linecap="round" stroke-linejoin="round"/>
<path d="M1082,570 L1082,585" fill="none" stroke="#5a5a5a" stroke-width="1.1" stroke-linecap="round" stroke-linejoin="round"/>
<path d="M737,590 C740,598 740,606 738,614" fill="none" stroke="#5a5a5a" stroke-width="1" stroke-linecap="round" stroke-linejoin="round"/>
<path d="M774,590 C777,598 777,606 775,614" fill="none" stroke="#5a5a5a" stroke-width="1" stroke-linecap="round" stroke-linejoin="round"/>
<path d="M811,590 C814,598 814,606 812,614" fill="none" stroke="#5a5a5a" stroke-width="1" stroke-linecap="round" stroke-linejoin="round"/>
<path d="M890,590 C893,598 893,606 891,614" fill="none" stroke="#5a5a5a" stroke-width="1" stroke-linecap="round" stroke-linejoin="round"/>
<path d="M927.6,590 C930.6,598 930.6,606 928.6,614" fill="none" stroke="#5a5a5a" stroke-width="1" stroke-linecap="round" stroke-linejoin="round"/>
<path d="M1005,590 C1008,598 1008,606 1006,614" fill="none" stroke="#5a5a5a" stroke-width="1" stroke-linecap="round" stroke-linejoin="round"/>
<path d="M1043.5,590 C1046.5,598 1046.5,606 1044.5,614" fill="none" stroke="#5a5a5a" stroke-width="1" stroke-linecap="round" stroke-linejoin="round"/>
<path d="M1120,590 C1123,598 1123,606 1121,614" fill="none" stroke="#5a5a5a" stroke-width="1" stroke-linecap="round" stroke-linejoin="round"/>
<path d="M1162,590 C1165,598 1165,606 1163,614" fill="none" stroke="#5a5a5a" stroke-width="1" stroke-linecap="round" stroke-linejoin="round"/>
<path d="M715,613.3 L1210,614" fill="none" stroke="#5a5a5a" stroke-width="1" stroke-linecap="round" stroke-linejoin="round"/>
<path d="M740,622 L1180,622.5" fill="none" stroke="#5a5a5a" stroke-width="1" stroke-linecap="round" stroke-linejoin="round"/>
<path d="M748.8,622 C747.3,721.0 750.3,721.0 748.8,820" fill="none" stroke="#5a5a5a" stroke-width="1.1" stroke-linecap="round" stroke-linejoin="round"/>
<path d="M783.5,622 C782.0,721.0 785.0,721.0 783.5,820" fill="none" stroke="#5a5a5a" stroke-width="1.1" stroke-linecap="round" stroke-linejoin="round"/>
<path d="M818.4,622 C816.9,721.0 819.9,721.0 818.4,820" fill="none" stroke="#5a5a5a" stroke-width="1.1" stroke-linecap="round" stroke-linejoin="round"/>
<path d="M853.9,622 C852.4,671.0 855.4,671.0 853.9,720" fill="none" stroke="#5a5a5a" stroke-width="1.1" stroke-linecap="round" stroke-linejoin="round"/>
<path d="M891.8,622 C890.3,671.0 893.3,671.0 891.8,720" fill="none" stroke="#5a5a5a" stroke-width="1.1" stroke-linecap="round" stroke-linejoin="round"/>
<path d="M928.4,622 C926.9,671.0 929.9,671.0 928.4,720" fill="none" stroke="#5a5a5a" stroke-width="1.1" stroke-linecap="round" stroke-linejoin="round"/>
<path d="M966,622 C964.5,671.0 967.5,671.0 966,720" fill="none" stroke="#5a5a5a" stroke-width="1.1" stroke-linecap="round" stroke-linejoin="round"/>
<path d="M1002.6,622 C1001.1,671.0 1004.1,671.0 1002.6,720" fill="none" stroke="#5a5a5a" stroke-width="1.1" stroke-linecap="round" stroke-linejoin="round"/>
<path d="M1039.2,622 C1037.7,671.0 1040.7,671.0 1039.2,720" fill="none" stroke="#5a5a5a" stroke-width="1.1" stroke-linecap="round" stroke-linejoin="round"/>
<path d="M1076.3,622 C1074.8,671.0 1077.8,671.0 1076.3,720" fill="none" stroke="#5a5a5a" stroke-width="1.1" stroke-linecap="round" stroke-linejoin="round"/>
<path d="M1111.1,622 C1109.6,758.5 1112.6,758.5 1111.1,895" fill="none" stroke="#5a5a5a" stroke-width="1.1" stroke-linecap="round" stroke-linejoin="round"/>
<path d="M1146.6,622 C1145.1,758.5 1148.1,758.5 1146.6,895" fill="none" stroke="#5a5a5a" stroke-width="1.1" stroke-linecap="round" stroke-linejoin="round"/>
<path d="M1178.6,622 C1177.1,758.5 1180.1,758.5 1178.6,895" fill="none" stroke="#5a5a5a" stroke-width="1.1" stroke-linecap="round" stroke-linejoin="round"/>
<path d="M712,649.5 C760,647.5 800,650.5 856,649.5" fill="none" stroke="#5a5a5a" stroke-width="1.1" stroke-linecap="round" stroke-linejoin="round"/>
<path d="M712,680.5 C760,678.5 800,681.5 856,680.5" fill="none" stroke="#5a5a5a" stroke-width="1.1" stroke-linecap="round" stroke-linejoin="round"/>
<path d="M712,716 C760,714 800,717 856,716" fill="none" stroke="#5a5a5a" stroke-width="1.1" stroke-linecap="round" stroke-linejoin="round"/>
<path d="M712,752 C760,750 800,753 856,752" fill="none" stroke="#5a5a5a" stroke-width="1.1" stroke-linecap="round" stroke-linejoin="round"/>
<path d="M712,787.7 C760,785.7 800,788.7 856,787.7" fill="none" stroke="#5a5a5a" stroke-width="1.1" stroke-linecap="round" stroke-linejoin="round"/>
<path d="M856,650.5 C920,648.5 1000,651.5 1071,650.5" fill="none" stroke="#5a5a5a" stroke-width="1.1" stroke-linecap="round" stroke-linejoin="round"/>
<path d="M856,685.3 C920,683.3 1000,686.3 1071,685.3" fill="none" stroke="#5a5a5a" stroke-width="1.1" stroke-linecap="round" stroke-linejoin="round"/>
<path d="M856,719 C920,717 1000,720 1071,719" fill="none" stroke="#5a5a5a" stroke-width="1.1" stroke-linecap="round" stroke-linejoin="round"/>
<path d="M1073,651 C1110,649 1140,652 1179,651" fill="none" stroke="#5a5a5a" stroke-width="1.1" stroke-linecap="round" stroke-linejoin="round"/>
<path d="M1073,683 C1110,681 1140,684 1179,683" fill="none" stroke="#5a5a5a" stroke-width="1.1" stroke-linecap="round" stroke-linejoin="round"/>
<path d="M1073,720 C1110,718 1140,721 1179,720" fill="none" stroke="#5a5a5a" stroke-width="1.1" stroke-linecap="round" stroke-linejoin="round"/>
<path d="M1073,754.9 C1110,752.9 1140,755.9 1179,754.9" fill="none" stroke="#5a5a5a" stroke-width="1.1" stroke-linecap="round" stroke-linejoin="round"/>
<path d="M1073,789.7 C1110,787.7 1140,790.7 1179,789.7" fill="none" stroke="#5a5a5a" stroke-width="1.1" stroke-linecap="round" stroke-linejoin="round"/>
<path d="M1073,824.5 C1110,822.5 1140,825.5 1179,824.5" fill="none" stroke="#5a5a5a" stroke-width="1.1" stroke-linecap="round" stroke-linejoin="round"/>
<path d="M1073,859.3 C1110,857.3 1140,860.3 1179,859.3" fill="none" stroke="#5a5a5a" stroke-width="1.1" stroke-linecap="round" stroke-linejoin="round"/>
<path d="M713,815 Q716,810 720,812" fill="none" stroke="#5a5a5a" stroke-width="1" stroke-linecap="round" stroke-linejoin="round"/>
<path d="M855,815 Q852,810 848,812" fill="none" stroke="#5a5a5a" stroke-width="1" stroke-linecap="round" stroke-linejoin="round"/>
<path d="M1074,890 Q1077,885 1081,887" fill="none" stroke="#5a5a5a" stroke-width="1" stroke-linecap="round" stroke-linejoin="round"/>
<path d="M1236,890 Q1233,885 1229,887" fill="none" stroke="#5a5a5a" stroke-width="1" stroke-linecap="round" stroke-linejoin="round"/>
<path d="M1190.7,618 L1212,596 C1215,594 1220,595 1221,600 L1221,865 C1221,868 1219,870 1216,869.5 L1183,863 C1180,862 1179.5,860 1179.5,857 L1180,650 C1180,640 1184,630 1190.7,618" fill="none" stroke="#646464" stroke-width="2.2" stroke-linecap="round" stroke-linejoin="round" />
<path d="M1191.5,630 C1193,700 1189,780 1192,863" fill="none" stroke="#5a5a5a" stroke-width="1" stroke-linecap="round" stroke-linejoin="round"/>
<path d="M1181,643.8 C1195,640.8 1205,640.8 1220,642.8" fill="none" stroke="#5a5a5a" stroke-width="1" stroke-linecap="round" stroke-linejoin="round"/>
<path d="M1181,682.2 C1195,679.2 1205,679.2 1220,681.2" fill="none" stroke="#5a5a5a" stroke-width="1" stroke-linecap="round" stroke-linejoin="round"/>
<path d="M1181,720 C1195,717 1205,717 1220,719" fill="none" stroke="#5a5a5a" stroke-width="1" stroke-linecap="round" stroke-linejoin="round"/>
<path d="M1181,758 C1195,755 1205,755 1220,757" fill="none" stroke="#5a5a5a" stroke-width="1" stroke-linecap="round" stroke-linejoin="round"/>
<path d="M1181,796 C1195,793 1205,793 1220,795" fill="none" stroke="#5a5a5a" stroke-width="1" stroke-linecap="round" stroke-linejoin="round"/>
<path d="M1181,834 C1195,831 1205,831 1220,833" fill="none" stroke="#5a5a5a" stroke-width="1" stroke-linecap="round" stroke-linejoin="round"/>
<path d="M698.4,631.7 C715,622 740,612 758,609.7 C765,617 768,628 772.2,636 C760,645 735,655 718.2,657.3 C712,648 705,640 698.4,631.7 Z" fill="#fff"/>
<path d="M698.4,631.7 C715,622 740,612 758,609.7 C765,617 768,628 772.2,636 C760,645 735,655 718.2,657.3" fill="none" stroke="#646464" stroke-width="2.4" stroke-linecap="round" stroke-linejoin="round" />
<path d="M698.4,631.7 C705,640 712,648 718.2,657.3" fill="none" stroke="#5a5a5a" stroke-width="1.2" stroke-linecap="round" stroke-linejoin="round"/>
<path d="M701.2,631 C718,624 738,616 753.7,612.5" fill="none" stroke="#5a5a5a" stroke-width="1" stroke-linecap="round" stroke-linejoin="round"/>
<path d="M748,622 C752,628 755,633 758,636" fill="none" stroke="#5a5a5a" stroke-width="1" stroke-linecap="round" stroke-linejoin="round"/>
<path d="M789,611.5 C818.25,606.5 861.25,606.5 890.5,611.5 C895.5,613.5 888.5,619.5 887.5,623.5 C887.5,629.5 889.5,637 888.5,639 C861.25,646 818.25,646 790,639 C787,635 792,629.5 791,623.5 C789,619.5 784,613.5 789,611.5 Z" fill="#fff" stroke="#646464" stroke-width="2.4" stroke-linecap="round" stroke-linejoin="round" />
<path d="M792,614.5 C818.25,611.5 861.25,611.5 887.5,614.5" fill="none" stroke="#5a5a5a" stroke-width="1" stroke-linecap="round" stroke-linejoin="round"/>
<path d="M792,619.5 L798,629.5" fill="none" stroke="#5a5a5a" stroke-width="1" stroke-linecap="round" stroke-linejoin="round"/>
<path d="M887.5,619.5 L881.5,629.5" fill="none" stroke="#5a5a5a" stroke-width="1" stroke-linecap="round" stroke-linejoin="round"/>
<path d="M909.2,614 C937.94,609 980.26,609 1009,614 C1014,616 1007,622 1006,626 C1006,632 1008,638 1007,640 C980.26,647 937.94,647 910.2,640 C907.2,636 912.2,632 911.2,626 C909.2,622 904.2,616 909.2,614 Z" fill="#fff" stroke="#646464" stroke-width="2.4" stroke-linecap="round" stroke-linejoin="round" />
<path d="M912.2,617 C937.94,614 980.26,614 1006,617" fill="none" stroke="#5a5a5a" stroke-width="1" stroke-linecap="round" stroke-linejoin="round"/>
<path d="M912.2,622 L918.2,632" fill="none" stroke="#5a5a5a" stroke-width="1" stroke-linecap="round" stroke-linejoin="round"/>
<path d="M1006,622 L1000,632" fill="none" stroke="#5a5a5a" stroke-width="1" stroke-linecap="round" stroke-linejoin="round"/>
<path d="M1027,614 C1055.8,609 1098.2,609 1127,614 C1132,616 1125,622 1124,626 C1124,632 1126,638 1125,640 C1098.2,647 1055.8,647 1028,640 C1025,636 1030,632 1029,626 C1027,622 1022,616 1027,614 Z" fill="#fff" stroke="#646464" stroke-width="2.4" stroke-linecap="round" stroke-linejoin="round" />
<path d="M1030,617 C1055.8,614 1098.2,614 1124,617" fill="none" stroke="#5a5a5a" stroke-width="1" stroke-linecap="round" stroke-linejoin="round"/>
<path d="M1030,622 L1036,632" fill="none" stroke="#5a5a5a" stroke-width="1" stroke-linecap="round" stroke-linejoin="round"/>
<path d="M1124,622 L1118,632" fill="none" stroke="#5a5a5a" stroke-width="1" stroke-linecap="round" stroke-linejoin="round"/>
<path d="M1146.6,608.3 C1165,612 1185,622 1199.2,633.8 C1193,638 1188,641 1182.1,642.4 L1145,643 C1138,642 1132,638 1126.7,632.4 C1132,625 1140,612 1146.6,608.3 Z" fill="#fff" stroke="#646464" stroke-width="2.4" stroke-linecap="round" stroke-linejoin="round" />
<path d="M1150,613 C1168,617 1185,627 1196,634" fill="none" stroke="#5a5a5a" stroke-width="1" stroke-linecap="round" stroke-linejoin="round"/>
<path d="M1160.9,628.2 C1178,640 1195,652 1203.4,665.1 C1195,672 1182,680 1172.2,682.2 C1160,672 1145,660 1133.9,645.2 C1140,638 1150,632 1160.9,628.2 Z" fill="#fff" stroke="#646464" stroke-width="2.4" stroke-linecap="round" stroke-linejoin="round" />
<path d="M1165,633 C1180,643 1193,655 1200,664" fill="none" stroke="#5a5a5a" stroke-width="1" stroke-linecap="round" stroke-linejoin="round"/>
<path d="M641.9,568.4 L641.9,824.5" fill="none" stroke="#e1242b" stroke-width="3.8" stroke-linecap="butt" stroke-linejoin="miter"/>
<path d="M1259.8,569 L1260.7,899" fill="none" stroke="#e1242b" stroke-width="3.8" stroke-linecap="butt" stroke-linejoin="miter"/>
<path d="M661.8,919.5 L1240.8,919.5" fill="none" stroke="#e1242b" stroke-width="3.8" stroke-linecap="butt" stroke-linejoin="miter"/>
<path d="M717.5,705.2 L853.7,707.6" fill="none" stroke="#e1242b" stroke-width="3.8" stroke-linecap="butt" stroke-linejoin="miter"/>
<path d="M853.7,684.3 L1076.9,684.9" fill="none" stroke="#e1242b" stroke-width="3.8" stroke-linecap="butt" stroke-linejoin="miter"/>
<path d="M1077,710.2 L1177.6,710.9" fill="none" stroke="#e1242b" stroke-width="3.8" stroke-linecap="butt" stroke-linejoin="miter"/>
<path d="M709.5,802.7 L858.7,802.7" fill="none" stroke="#e1242b" stroke-width="3.8" stroke-linecap="butt" stroke-linejoin="miter"/>
<path d="M1070.7,782.7 L1178,782.7" fill="none" stroke="#e1242b" stroke-width="3.8" stroke-linecap="butt" stroke-linejoin="miter"/>
<path d="M1070.7,882.2 L1240.8,882.2" fill="none" stroke="#e1242b" stroke-width="3.8" stroke-linecap="butt" stroke-linejoin="miter"/>
<g transform="translate(899.9 949.7) rotate(0)"><text transform="translate(-1 0) scale(0.97 1)" x="0" y="0" font-size="34" font-weight="700" stroke="#000" stroke-width="0.45">348</text><text transform="translate(53.5 0) scale(1.16 1)" x="0" y="0" font-size="33" font-weight="400" stroke="#fff" stroke-width="0.6">cm</text></g>
<g transform="translate(635.1 744.6) rotate(-90)"><text transform="translate(-1 0) scale(0.97 1)" x="0" y="0" font-size="34" font-weight="700" stroke="#000" stroke-width="0.45">155</text><text transform="translate(53.5 0) scale(1.16 1)" x="0" y="0" font-size="33" font-weight="400" stroke="#fff" stroke-width="0.6">cm</text></g>
<g transform="translate(1264.6 682) rotate(90)"><text transform="translate(-1 0) scale(0.97 1)" x="0" y="0" font-size="34" font-weight="700" stroke="#000" stroke-width="0.45">205</text><text transform="translate(53.5 0) scale(1.16 1)" x="0" y="0" font-size="33" font-weight="400" stroke="#fff" stroke-width="0.6">cm</text></g>
<g transform="translate(744.3 699.3) rotate(0)"><text transform="translate(-1 0) scale(0.97 1)" x="0" y="0" font-size="34" font-weight="700" stroke="#000" stroke-width="0.45">88</text><text transform="translate(36.0 0) scale(1.16 1)" x="0" y="0" font-size="33" font-weight="400" stroke="#fff" stroke-width="0.6">cm</text></g>
<g transform="translate(919.3 679.0) rotate(0)"><text transform="translate(-1 0) scale(0.97 1)" x="0" y="0" font-size="34" font-weight="700" stroke="#000" stroke-width="0.45">135</text><text transform="translate(53.5 0) scale(1.16 1)" x="0" y="0" font-size="33" font-weight="400" stroke="#fff" stroke-width="0.6">cm</text></g>
<g transform="translate(1087 704.8) rotate(0)"><text transform="translate(-1 0) scale(0.97 1)" x="0" y="0" font-size="34" font-weight="700" stroke="#000" stroke-width="0.45">59</text><text transform="translate(36.0 0) scale(1.16 1)" x="0" y="0" font-size="33" font-weight="400" stroke="#fff" stroke-width="0.6">cm</text></g>
<g transform="translate(1085 775.6) rotate(0)"><text transform="translate(-1 0) scale(0.97 1)" x="0" y="0" font-size="34" font-weight="700" stroke="#000" stroke-width="0.45">62</text><text transform="translate(36.0 0) scale(1.16 1)" x="0" y="0" font-size="33" font-weight="400" stroke="#fff" stroke-width="0.6">cm</text></g>
<g transform="translate(733.5 796.5) rotate(0)"><text transform="translate(-1 0) scale(0.97 1)" x="0" y="0" font-size="34" font-weight="700" stroke="#000" stroke-width="0.45">100</text><text transform="translate(53.5 0) scale(1.16 1)" x="0" y="0" font-size="33" font-weight="400" stroke="#fff" stroke-width="0.6">cm</text></g>
<g transform="translate(1093.6 875.0) rotate(0)"><text transform="translate(-1 0) scale(0.97 1)" x="0" y="0" font-size="34" font-weight="700" stroke="#000" stroke-width="0.45">98</text><text transform="translate(36.0 0) scale(1.16 1)" x="0" y="0" font-size="33" font-weight="400" stroke="#fff" stroke-width="0.6">cm</text></g>
<path d="M186.7,714.3 L340,714.3 Q358.7,714.3 358.7,733 L358.7,805 L240,835 L161.4,835 L161.4,750.7 C172,768 195,788 241.4,797.5 C215,780 195,750 186.7,714.3 Z" fill="#6c6c6c"/>
<path d="M280.1,723.6 L281.2,726.3 L284.1,726.5 L281.9,728.4 L282.6,731.2 L280.1,729.7 L277.6,731.2 L278.3,728.4 L276.1,726.5 L279.0,726.3 Z" fill="#fff"/>
<path d="M222.5,734.6 L223.6,737.3 L226.5,737.5 L224.3,739.4 L225.0,742.2 L222.5,740.7 L220.0,742.2 L220.7,739.4 L218.5,737.5 L221.4,737.3 Z" fill="#fff"/>
<path d="M296.0,744.5 L297.1,747.2 L300.0,747.4 L297.8,749.3 L298.5,752.1 L296.0,750.6 L293.5,752.1 L294.2,749.3 L292.0,747.4 L294.9,747.2 Z" fill="#fff"/>
<path d="M253.3,770.4 L254.4,773.1 L257.3,773.3 L255.1,775.2 L255.8,778.0 L253.3,776.5 L250.8,778.0 L251.5,775.2 L249.3,773.3 L252.2,773.1 Z" fill="#fff"/>
<path d="M343.8,725.6 L344.9,728.3 L347.8,728.5 L345.6,730.4 L346.3,733.2 L343.8,731.7 L341.3,733.2 L342.0,730.4 L339.8,728.5 L342.7,728.3 Z" fill="#fff"/>
<path d="M331.8,777.3 L332.9,780.0 L335.8,780.2 L333.6,782.1 L334.3,784.9 L331.8,783.4 L329.3,784.9 L330.0,782.1 L327.8,780.2 L330.7,780.0 Z" fill="#fff"/>
<path d="M178.7,795.2 L179.8,797.9 L182.7,798.1 L180.5,800.0 L181.2,802.8 L178.7,801.3 L176.2,802.8 L176.9,800.0 L174.7,798.1 L177.6,797.9 Z" fill="#fff"/>
<path d="M297.0,769.4 L298.1,772.1 L301.0,772.3 L298.8,774.2 L299.5,777.0 L297.0,775.5 L294.5,777.0 L295.2,774.2 L293.0,772.3 L295.9,772.1 Z" fill="#fff"/>
<path d="M207.6,723.8 L208.4,725.7 L210.5,725.9 L208.9,727.2 L209.4,729.2 L207.6,728.1 L205.8,729.2 L206.3,727.2 L204.7,725.9 L206.8,725.7 Z" fill="#fff"/>
<path d="M232.4,717.9 L233.2,719.8 L235.3,720.0 L233.7,721.3 L234.2,723.3 L232.4,722.2 L230.6,723.3 L231.1,721.3 L229.5,720.0 L231.6,719.8 Z" fill="#fff"/>
<path d="M240.4,729.8 L241.2,731.7 L243.3,731.9 L241.7,733.2 L242.2,735.2 L240.4,734.1 L238.6,735.2 L239.1,733.2 L237.5,731.9 L239.6,731.7 Z" fill="#fff"/>
<path d="M265.2,734.8 L266.0,736.7 L268.1,736.9 L266.5,738.2 L267.0,740.2 L265.2,739.1 L263.4,740.2 L263.9,738.2 L262.3,736.9 L264.4,736.7 Z" fill="#fff"/>
<path d="M243.3,738.8 L244.1,740.7 L246.2,740.9 L244.6,742.2 L245.1,744.2 L243.3,743.1 L241.5,744.2 L242.0,742.2 L240.4,740.9 L242.5,740.7 Z" fill="#fff"/>
<path d="M278.2,741.7 L279.0,743.6 L281.1,743.8 L279.5,745.1 L280.0,747.1 L278.2,746.1 L276.4,747.1 L276.9,745.1 L275.3,743.8 L277.4,743.6 Z" fill="#fff"/>
<path d="M222.5,751.7 L223.3,753.6 L225.4,753.8 L223.8,755.1 L224.3,757.1 L222.5,756.1 L220.7,757.1 L221.2,755.1 L219.6,753.8 L221.7,753.6 Z" fill="#fff"/>
<path d="M248.3,751.7 L249.1,753.6 L251.2,753.8 L249.6,755.1 L250.1,757.1 L248.3,756.1 L246.5,757.1 L247.0,755.1 L245.4,753.8 L247.5,753.6 Z" fill="#fff"/>
<path d="M253.3,751.7 L254.1,753.6 L256.2,753.8 L254.6,755.1 L255.1,757.1 L253.3,756.1 L251.5,757.1 L252.0,755.1 L250.4,753.8 L252.5,753.6 Z" fill="#fff"/>
<path d="M314.0,750.7 L314.8,752.6 L316.9,752.8 L315.3,754.1 L315.8,756.1 L314.0,755.1 L312.2,756.1 L312.7,754.1 L311.1,752.8 L313.2,752.6 Z" fill="#fff"/>
<path d="M333.8,744.7 L334.6,746.6 L336.7,746.8 L335.1,748.1 L335.6,750.1 L333.8,749.1 L332.0,750.1 L332.5,748.1 L330.9,746.8 L333.0,746.6 Z" fill="#fff"/>
<path d="M323.9,719.9 L324.7,721.8 L326.8,722.0 L325.2,723.3 L325.7,725.3 L323.9,724.2 L322.1,725.3 L322.6,723.3 L321.0,722.0 L323.1,721.8 Z" fill="#fff"/>
<path d="M318.9,729.8 L319.7,731.7 L321.8,731.9 L320.2,733.2 L320.7,735.2 L318.9,734.1 L317.1,735.2 L317.6,733.2 L316.0,731.9 L318.1,731.7 Z" fill="#fff"/>
<path d="M300.0,728.8 L300.8,730.7 L302.9,730.9 L301.3,732.2 L301.8,734.2 L300.0,733.1 L298.2,734.2 L298.7,732.2 L297.1,730.9 L299.2,730.7 Z" fill="#fff"/>
<path d="M211.5,759.6 L212.3,761.5 L214.4,761.7 L212.8,763.0 L213.3,765.0 L211.5,764.0 L209.7,765.0 L210.2,763.0 L208.6,761.7 L210.7,761.5 Z" fill="#fff"/>
<path d="M233.4,762.6 L234.2,764.5 L236.3,764.7 L234.7,766.0 L235.2,768.0 L233.4,767.0 L231.6,768.0 L232.1,766.0 L230.5,764.7 L232.6,764.5 Z" fill="#fff"/>
<path d="M269.2,759.6 L270.0,761.5 L272.1,761.7 L270.5,763.0 L271.0,765.0 L269.2,764.0 L267.4,765.0 L267.9,763.0 L266.3,761.7 L268.4,761.5 Z" fill="#fff"/>
<path d="M286.1,758.6 L286.9,760.5 L289.0,760.7 L287.4,762.0 L287.9,764.0 L286.1,763.0 L284.3,764.0 L284.8,762.0 L283.2,760.7 L285.3,760.5 Z" fill="#fff"/>
<path d="M216.5,767.6 L217.3,769.5 L219.4,769.7 L217.8,771.0 L218.3,773.0 L216.5,772.0 L214.7,773.0 L215.2,771.0 L213.6,769.7 L215.7,769.5 Z" fill="#fff"/>
<path d="M273.2,774.6 L274.0,776.5 L276.1,776.7 L274.5,778.0 L275.0,780.0 L273.2,779.0 L271.4,780.0 L271.9,778.0 L270.3,776.7 L272.4,776.5 Z" fill="#fff"/>
<path d="M318.9,774.6 L319.7,776.5 L321.8,776.7 L320.2,778.0 L320.7,780.0 L318.9,779.0 L317.1,780.0 L317.6,778.0 L316.0,776.7 L318.1,776.5 Z" fill="#fff"/>
<path d="M339.8,760.6 L340.6,762.5 L342.7,762.7 L341.1,764.0 L341.6,766.0 L339.8,765.0 L338.0,766.0 L338.5,764.0 L336.9,762.7 L339.0,762.5 Z" fill="#fff"/>
<path d="M178.7,778.5 L179.5,780.4 L181.6,780.6 L180.0,781.9 L180.5,783.9 L178.7,782.9 L176.9,783.9 L177.4,781.9 L175.8,780.6 L177.9,780.4 Z" fill="#fff"/>
<path d="M169.8,785.5 L170.6,787.4 L172.7,787.6 L171.1,788.9 L171.6,790.9 L169.8,789.9 L168.0,790.9 L168.5,788.9 L166.9,787.6 L169.0,787.4 Z" fill="#fff"/>
<path d="M207.6,792.5 L208.4,794.4 L210.5,794.6 L208.9,795.9 L209.4,797.9 L207.6,796.9 L205.8,797.9 L206.3,795.9 L204.7,794.6 L206.8,794.4 Z" fill="#fff"/>
<path d="M198.6,805.4 L199.4,807.3 L201.5,807.5 L199.9,808.8 L200.4,810.8 L198.6,809.8 L196.8,810.8 L197.3,808.8 L195.7,807.5 L197.8,807.3 Z" fill="#fff"/>
<path d="M183.7,811.3 L184.5,813.2 L186.6,813.4 L185.0,814.7 L185.5,816.7 L183.7,815.6 L181.9,816.7 L182.4,814.7 L180.8,813.4 L182.9,813.2 Z" fill="#fff"/>
<circle cx="269.2" cy="718.9" r="1.1" fill="#fff"/>
<circle cx="254.3" cy="726.8" r="1.1" fill="#fff"/>
<circle cx="305" cy="722.9" r="1.1" fill="#fff"/>
<circle cx="330.8" cy="728.8" r="1.1" fill="#fff"/>
<circle cx="258.3" cy="738.8" r="1.1" fill="#fff"/>
<circle cx="289.1" cy="735.8" r="1.1" fill="#fff"/>
<circle cx="307" cy="740.8" r="1.1" fill="#fff"/>
<circle cx="205.6" cy="744.7" r="1.1" fill="#fff"/>
<circle cx="262.2" cy="750.7" r="1.1" fill="#fff"/>
<circle cx="347.8" cy="745.7" r="1.1" fill="#fff"/>
<circle cx="282.1" cy="763.6" r="1.1" fill="#fff"/>
<circle cx="283.1" cy="775.6" r="1.1" fill="#fff"/>
<circle cx="317.9" cy="762.6" r="1.1" fill="#fff"/>
<circle cx="346.8" cy="779.5" r="1.1" fill="#fff"/>
<circle cx="234.4" cy="778.6" r="1.1" fill="#fff"/>
<circle cx="239.4" cy="784.5" r="1.1" fill="#fff"/>
<circle cx="257.3" cy="783.5" r="1.1" fill="#fff"/>
<circle cx="170.8" cy="773.6" r="1.1" fill="#fff"/>
<circle cx="193.6" cy="795.5" r="1.1" fill="#fff"/>
<circle cx="220.5" cy="804.4" r="1.1" fill="#fff"/>
<path d="M140.9,841.2 L231.4,813.4 L388.5,819.3 L273.2,863.1 Z" fill="#e42327"/>
<path d="M140.9,841.2 L273.2,863.1 L275.2,890 L141.9,861.1 Z" fill="#fbfbfb" stroke="#7a7a7a" stroke-width="1.4" stroke-linejoin="round"/>
<path d="M273.2,863.1 L388.5,819.3 L389.5,839.2 L275.2,890 Z" fill="#fbfbfb" stroke="#7a7a7a" stroke-width="1.4" stroke-linejoin="round"/>
<path d="M141.9,861.1 L275.2,890 L389.5,839.2" fill="none" stroke="#6b6b6b" stroke-width="3.2" stroke-linejoin="round"/>
<path d="M273.5,866 C271,872 271,884 274.5,889" fill="none" stroke="#777" stroke-width="2"/>
<path d="M232.5,808.6 C238,805 243,802 246.1,801.1 C250,797 253,795 257.3,793.6 C262,790 267,787.5 271,787.4 C274,786 276,786.5 277.2,786.8 C286,787 293,787.5 299.6,788.7 C308,790 316,793 324.4,796.1 C330,797 336,797.5 341.8,797.4 C350,798 360,799.5 368,801.1 C377,804 385,807 391.6,811 C391,814 390,818 388,819.8 C378,824 369,828 361.7,831 C358,833 356,834 354.3,834 C350,833 347,832 344.3,831 C332,828 322,826 312,824.7 C305,824.5 298,824.7 293.4,824.7 C290,824.5 288.5,824 287.2,823.5 C284,821 281,819.5 278.4,818.5 C268,816 258,814.5 249.9,813.5 C243,812.5 237,811.5 232.5,811 Z" fill="#fdfdfd"/>
<path d="M237.4,811 C255,814 270,817 287.2,822.2" fill="none" stroke="#8a8a8a" stroke-width="0.9"/>
<path d="M295.8,821 C312,823 330,826 344.3,829.7" fill="none" stroke="#8a8a8a" stroke-width="0.9"/>
<path d="M299.6,789.9 C310,792 318,795 326.9,799.2" fill="none" stroke="#8a8a8a" stroke-width="0.9"/>
<path d="M364.2,801.1 C373,804 382,808 390.3,812.3" fill="none" stroke="#8a8a8a" stroke-width="0.9"/>
<path d="M349.3,821 C362,818 375,815 386.6,813.5" fill="none" stroke="#8a8a8a" stroke-width="0.9"/>
<path d="M246,801 C252,797 258,794 265,791" fill="none" stroke="#8a8a8a" stroke-width="0.9"/>
<path d="M294.6,811 C300,803 309,799.5 317.6,801.1 C310,802.5 302,806 296.5,811.5 Z" fill="#6f6f6f"/>
<path d="M355.5,821 C361,814 370,810.5 379.1,811 C371,812.5 363,816 357.5,821.5 Z" fill="#6f6f6f"/>
<path d="M139,871 L275.2,902.9 L395.5,846.2" fill="none" stroke="#e42327" stroke-width="2.8" stroke-linejoin="miter"/>
<path d="M155,866 L139,871 L146,884" fill="none" stroke="#e42327" stroke-width="2.8"/>
<path d="M381,846.5 L395.5,846.2 L390,859" fill="none" stroke="#e42327" stroke-width="2.8"/>
<text x="398.8" y="823.9" font-size="38" font-weight="700" textLength="166.6" lengthAdjust="spacingAndGlyphs" style="fill:#666">290 x 125</text>
</svg></body></html>
